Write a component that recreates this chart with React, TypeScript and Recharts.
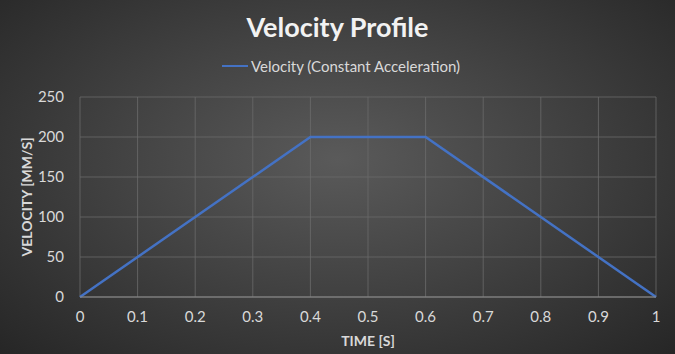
import React from "react";
import { LineChart, Line, XAxis, YAxis, CartesianGrid, Label } from "recharts";

const times = [0, 0.4, 0.6, 1];
const velocity = [0, 200, 200, 0];
const xTicks = [0, 0.1, 0.2, 0.3, 0.4, 0.5, 0.6, 0.7, 0.8, 0.9, 1];
const yTicks = [0, 50, 100, 150, 200, 250];

const data = times.map((t, i) => ({ t, v: velocity[i] }));

const FONT = "Lato, 'Open Sans', sans-serif";
const TICK = { fill: "#d9d9d9", fontSize: 15, fontFamily: FONT };

export default function App() {
  return (
    <div
      style={{
        position: "absolute",
        left: 0,
        top: 0,
        width: 675,
        height: 354,
        background: "radial-gradient(ellipse at 50% 45%, #5a5a5a 0%, #434343 45%, #262626 100%)",
        fontFamily: FONT,
      }}
    >
      <div
        style={{
          position: "absolute",
          top: 10,
          width: 675,
          textAlign: "center",
          color: "#f2f2f2",
          fontSize: 27,
          fontWeight: 700,
        }}
      >
        Velocity Profile
      </div>
      <div
        style={{
          position: "absolute",
          top: 57,
          left: 222,
          display: "flex",
          alignItems: "center",
          color: "#d9d9d9",
          fontSize: 15,
        }}
      >
        <span style={{ display: "inline-block", width: 26, height: 2.5, background: "#4472c4", marginRight: 3 }} />
        Velocity (Constant Acceleration)
      </div>
      <LineChart width={675} height={354} data={data} margin={{ top: 97, right: 19, left: 0, bottom: 22 }}>
        <CartesianGrid stroke="#6b6b6b" strokeWidth={0.8} />
        <XAxis
          dataKey="t"
          type="number"
          domain={[0, 1]}
          ticks={xTicks}
          tick={TICK}
          tickSize={0}
          tickMargin={14}
          stroke="#8c8c8c"
          height={35}
        >
          <Label value="TIME [S]" position="insideBottom" offset={-14} fill="#d9d9d9" fontSize={14} fontWeight={700} fontFamily={FONT} />
        </XAxis>
        <YAxis
          type="number"
          domain={[0, 250]}
          ticks={yTicks}
          tick={TICK}
          tickSize={0}
          tickMargin={16}
          axisLine={false}
          width={80}
        >
          <Label
            value="VELOCITY [MM/S]"
            angle={-90}
            position="insideLeft"
            offset={27}
            style={{ textAnchor: "middle" }}
            fill="#d9d9d9"
            fontSize={14}
            fontWeight={700}
            fontFamily={FONT}
          />
        </YAxis>
        <Line type="linear" dataKey="v" stroke="#4472c4" strokeWidth={2.5} dot={false} isAnimationActive={false} />
      </LineChart>
    </div>
  );
}
